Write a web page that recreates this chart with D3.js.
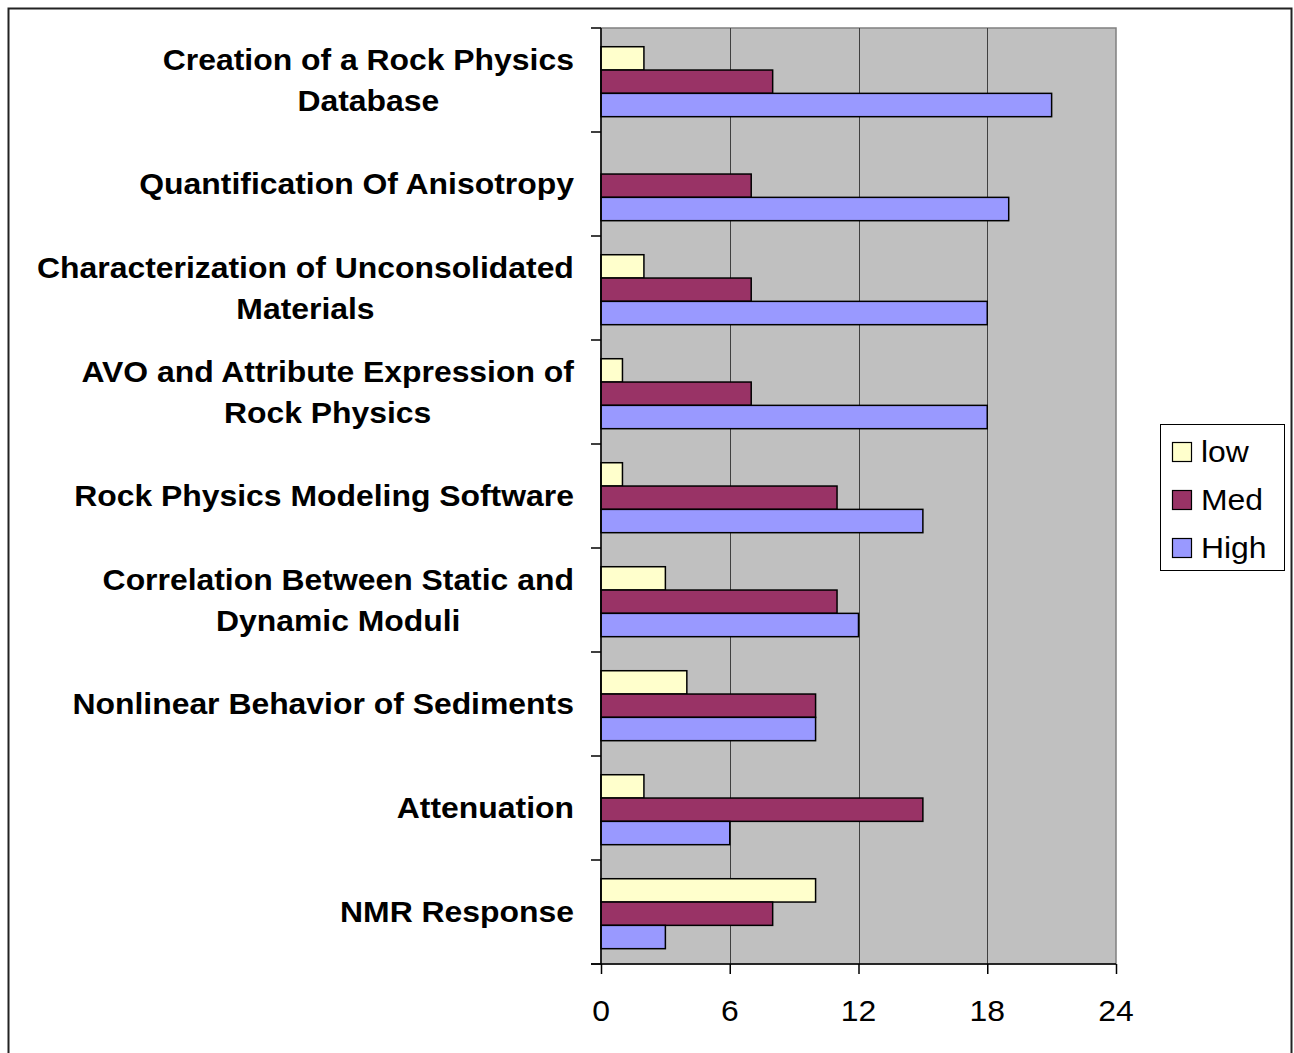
<!DOCTYPE html>
<html>
<head>
<meta charset="utf-8">
<script src="https://cdn.jsdelivr.net/npm/d3@7"></script>
<style>
  html, body { margin: 0; padding: 0; background: #fff; }
  svg { display: block; }
  text { font-family: "Liberation Sans", Arial, sans-serif; fill: #000; }
</style>
</head>
<body>
<svg id="chart" width="1294" height="1053"></svg>
<script>
// ---- data ----
const categories = [
  "Creation of a Rock Physics\nDatabase",
  "Quantification Of Anisotropy",
  "Characterization of Unconsolidated\nMaterials",
  "AVO and Attribute Expression of\nRock Physics",
  "Rock Physics Modeling Software",
  "Correlation Between Static and\nDynamic Moduli",
  "Nonlinear Behavior of Sediments",
  "Attenuation",
  "NMR Response"
];
const seriesNames = ["low", "Med", "High"];
const lowValues  = [2, 0, 2, 1, 1, 3, 4, 2, 10];
const medValues  = [8, 7, 7, 7, 11, 11, 10, 15, 8];
const highValues = [21, 19, 18, 18, 15, 12, 10, 6, 3];
const xTicks = [0, 6, 12, 18, 24];
const seriesColors = ["#FFFFCC", "#993366", "#9999FF"];

const seriesValues = [lowValues, medValues, highValues];
const rows = categories.map((c, i) => ({
  cat: c,
  vals: seriesNames.map((s, j) => ({ key: s, value: seriesValues[j][i] }))
}));

// ---- layout ----
const svg = d3.select("#chart");
const plot = { left: 601, right: 1116, top: 28, bottom: 964 };
const SX = 1.1;       // horizontal stretch of the source text
const FS = 29;

// outer border
svg.append("rect")
  .attr("x", 8.5).attr("y", 8.5)
  .attr("width", 1283).attr("height", 1070)
  .attr("fill", "#fff").attr("stroke", "#222").attr("stroke-width", 2);

const x = d3.scaleLinear().domain([0, 24]).range([plot.left, plot.right]);
const y0 = d3.scaleBand().domain(categories).range([plot.top, plot.bottom]).padding(0);
const y1 = d3.scaleBand().domain(seriesNames).range([0, y0.bandwidth()])
  .paddingInner(0).paddingOuter(0.73).align(0.55);
const color = d3.scaleOrdinal().domain(seriesNames).range(seriesColors);

// plot background
svg.append("rect")
  .attr("x", plot.left).attr("y", plot.top)
  .attr("width", plot.right - plot.left).attr("height", plot.bottom - plot.top)
  .attr("fill", "#C0C0C0").attr("stroke", "#808080").attr("stroke-width", 1.5);

// gridlines
svg.append("g").selectAll("line")
  .data(xTicks.filter(t => t > 0 && t < 24))
  .join("line")
  .attr("x1", d => Math.round(x(d)) + 0.5).attr("x2", d => Math.round(x(d)) + 0.5)
  .attr("y1", plot.top).attr("y2", plot.bottom)
  .attr("stroke", "#404040").attr("stroke-width", 1);

// bars
const groups = svg.append("g").selectAll("g")
  .data(rows).join("g")
  .attr("transform", d => `translate(0,${y0(d.cat)})`);
groups.selectAll("rect")
  .data(d => d.vals.filter(v => v.value > 0))
  .join("rect")
  .attr("x", x(0))
  .attr("y", d => y1(d.key))
  .attr("width", d => x(d.value) - x(0))
  .attr("height", y1.bandwidth())
  .attr("fill", d => color(d.key))
  .attr("stroke", "#000").attr("stroke-width", 1.5);

// y axis (ticks at band boundaries, no labels from axis)
const yBounds = categories.map(c => y0(c)).concat([plot.bottom]);
const yAxisG = svg.append("g");
yAxisG.append("line")
  .attr("x1", plot.left).attr("x2", plot.left)
  .attr("y1", plot.top).attr("y2", plot.bottom)
  .attr("stroke", "#000").attr("stroke-width", 1.5);
yAxisG.selectAll("line.tk").data(yBounds).join("line").attr("class", "tk")
  .attr("x1", plot.left - 10).attr("x2", plot.left)
  .attr("y1", d => d).attr("y2", d => d)
  .attr("stroke", "#000").attr("stroke-width", 1.5);

// x axis
const xAxis = d3.axisBottom(x).tickValues(xTicks).tickSize(10).tickFormat("");
const xg = svg.append("g").attr("transform", `translate(0,${plot.bottom})`).call(xAxis);
xg.select(".domain").attr("stroke", "#000").attr("stroke-width", 1.5)
  .attr("d", `M${plot.left - 10},0H${plot.right}`);
xg.selectAll(".tick line").attr("stroke", "#000").attr("stroke-width", 1.5);
svg.append("g").selectAll("text").data(xTicks).join("text")
  .attr("transform", d => `translate(${x(d)},1021) scale(${SX},1)`)
  .attr("text-anchor", "middle")
  .style("font-size", FS + "px")
  .text(d => d);

// category labels (multi-line, centred block, right aligned)
const labelRight = 574;
const lineGap = 41;
const capH = FS * 0.716;
rows.forEach(r => {
  const lines = r.cat.split("\n");
  const cy = y0(r.cat) + y0.bandwidth() / 2;
  const g = svg.append("g");
  const texts = lines.map(l => g.append("text")
    .style("font-size", FS + "px").style("font-weight", "bold")
    .attr("text-anchor", "middle").text(l));
  const widths = texts.map(t => t.node().getComputedTextLength() * SX);
  const W = d3.max(widths);
  const cx = labelRight - W / 2;
  const firstBase = cy - (lines.length - 1) * lineGap / 2 + capH / 2;
  texts.forEach((t, i) => {
    t.attr("transform", `translate(${cx},${firstBase + i * lineGap}) scale(${SX},1)`);
  });
});

// legend
const lg = svg.append("g");
lg.append("rect")
  .attr("x", 1160.5).attr("y", 424.5).attr("width", 124).attr("height", 146)
  .attr("fill", "#fff").attr("stroke", "#000").attr("stroke-width", 1);
const legY = d3.scalePoint().domain(seriesNames).range([442, 538]);
lg.selectAll("rect.sw").data(seriesNames).join("rect").attr("class", "sw")
  .attr("x", 1172.5).attr("y", d => legY(d) + 0.5)
  .attr("width", 19).attr("height", 19)
  .attr("fill", d => color(d)).attr("stroke", "#000").attr("stroke-width", 1.2);
lg.selectAll("text").data(seriesNames).join("text")
  .attr("transform", d => `translate(1201,${legY(d) + 20}) scale(${SX},1)`)
  .style("font-size", FS + "px")
  .text(d => d);
</script>
</body>
</html>
